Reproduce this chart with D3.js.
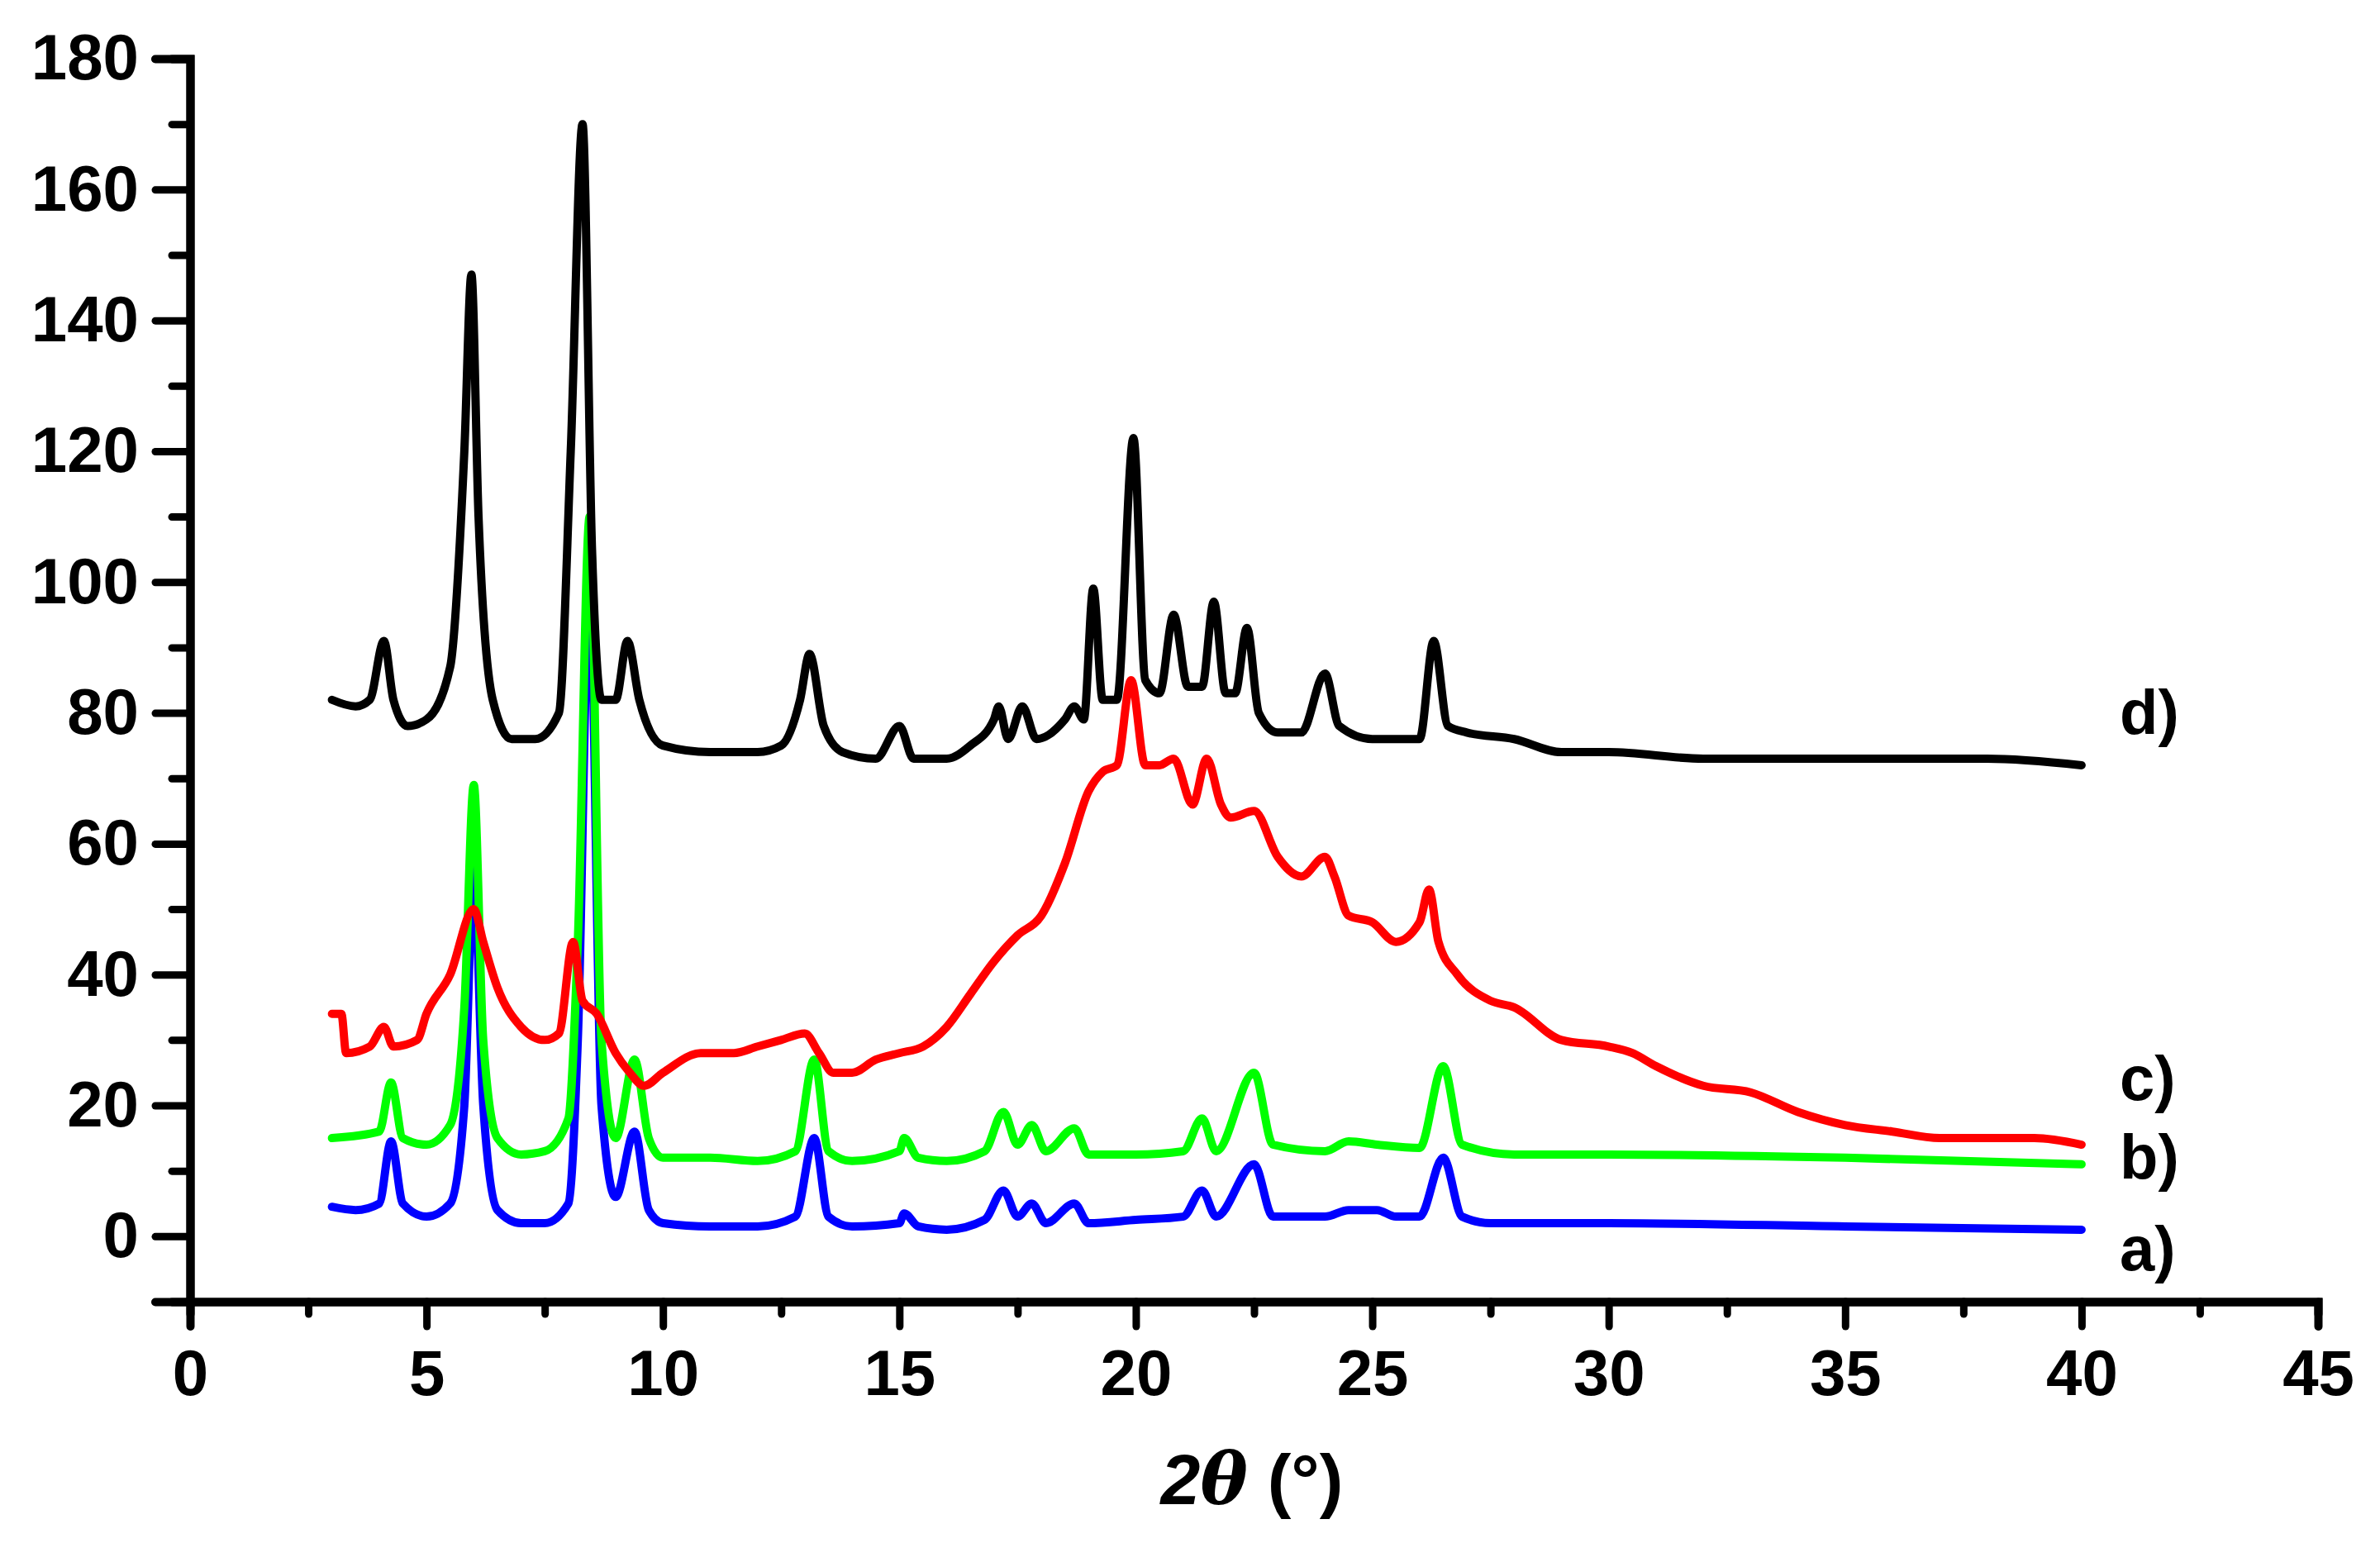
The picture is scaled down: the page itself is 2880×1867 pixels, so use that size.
<!DOCTYPE html>
<html>
<head>
<meta charset="utf-8">
<script src="https://cdn.jsdelivr.net/npm/d3@7"></script>
<style>
  body { margin: 0; background: #fff; }
  text { font-family: "Liberation Sans", Arial, sans-serif; font-weight: bold; }
</style>
</head>
<body>
<svg id="chart" width="2880" height="1867"></svg>
<script>
// values (2theta, intensity)
var xA = [3,3.5,4,4.25,4.5,5,5.5,5.8,6,6.2,6.5,7,7.5,8,8.2,8.45,8.7,9,9.4,9.7,10,11,12,12.8,13.2,13.5,14,15,15.1,15.4,16,16.8,17.2,17.5,17.8,18.1,18.7,19,20,21,21.4,21.7,22.5,22.9,24,24.5,25.1,25.5,26,26.5,26.9,27.5,30,35,40];
var yA = [4.5,4,5,14.5,5,3,5,20,56,20,4,2,2,5,30,100,20,6,16,4,2,1.5,1.5,3,15,3,1.5,2,3.5,1.5,1,2.5,7,3,5,2,5,2,2.5,3,7,3,11,3,3,4,4,3,3,12,3,2,2,1.5,1];

var xB = [3,4,4.25,4.5,5,5.5,5.8,6,6.2,6.5,7,7.5,8,8.2,8.45,8.7,9,9.4,9.7,10,11,12,12.8,13.2,13.5,14,15,15.1,15.4,16,16.8,17.2,17.5,17.8,18.1,18.7,19,20,21,21.4,21.7,22.5,22.9,24,24.5,25.1,26,26.5,26.9,28,30,35,40];
var yB = [15,16,23.5,15,14,17,35,69,30,15,12.5,13,18,45,110,30,15,27,15,12,12,11.5,13,27,13,11.5,13,15,12,11.5,13,19,14,17,13,16.5,12.5,12.5,13,18,13,25,14,13,14.5,14,13.5,26,14,12.5,12.5,12,11];

var xC = [3,3.2,3.3,3.8,4.1,4.3,4.8,5,5.5,6,6.2,6.5,7,7.5,7.8,8.1,8.3,8.6,9,9.3,9.6,10,10.8,11.5,12,12.5,13,13.3,13.6,14,14.5,15,15.5,16,16.5,17,17.5,18,18.5,19,19.3,19.6,19.9,20.2,20.5,20.8,21.2,21.5,21.8,22,22.5,23,23.5,24,24.2,24.5,25,25.5,26,26.2,26.4,26.8,27.5,28,29,30,30.5,31,32,33,34,35,36,37,38,39,40];
var yC = [34,34,28,29,32,29,30,34,40,50,45,38,32,30,31,45,36,34,28,25,23,25,28,28,29,30,31,28,25,25,27,28,29,32,37,42,46,49,57,68,71,72,85,72,72,73,66,73,66,64,65,58,55,58,55,49,48,45,48,53,45,40,36,35,30,29,28,26,23,22,19,17,16,15,15,15,14];

var xD = [3,3.5,3.8,4.1,4.3,4.6,5,5.5,5.8,5.95,6.1,6.4,6.8,7.3,7.8,8.05,8.3,8.5,8.7,9,9.25,9.5,10,11,12,12.5,12.9,13.1,13.4,13.8,14.5,15,15.3,16,16.5,17,17.1,17.3,17.6,17.9,18.5,18.7,18.9,19.1,19.3,19.6,19.95,20.2,20.5,20.8,21.1,21.4,21.65,21.9,22.1,22.35,22.6,23,23.5,24,24.3,25,26,26.3,26.6,27,28,29,30,32,34,36,38,40];
var yD = [82,81,82,91,82,78,79,87,120,147,110,82,76,76,80,120,170,105,82,82,91,82,75,74,74,75,82,89,78,74,73,78,73,73,75,79,81,76,81,76,79,81,79,99,82,82,122,85,83,95,84,84,97,83,83,93,80,77,77,86,78,76,76,91,78,77,76,74,74,73,73,73,73,72];

var seriesNames = ["a)", "b)", "c)", "d)"];
var seriesColors = ["#0000ff", "#00ff00", "#ff0000", "#000000"];
var seriesX = [xA, xB, xC, xD];
var seriesY = [yA, yB, yC, yD];
var labelY = [-2, 12, 24, 80];   // label anchor levels in data units
var xTicks = d3.range(0, 46, 5);
var yTicks = d3.range(0, 181, 20);

var svg = d3.select("#chart");
var x = d3.scaleLinear().domain([0, 45]).range([230, 2805]);
var y = d3.scaleLinear().domain([-10, 180]).range([1575, 71]);

// curves
var line = d3.line().x(d => x(d[0])).y(d => y(d[1])).curve(d3.curveMonotoneX);
seriesX.forEach((xs, i) => {
  svg.append("path")
    .datum(xs.map((v, j) => [v, seriesY[i][j]]))
    .attr("d", line)
    .attr("fill", "none")
    .attr("stroke", seriesColors[i])
    .attr("stroke-width", 10)
    .attr("stroke-linejoin", "round")
    .attr("stroke-linecap", "round");
});

// y axis
svg.append("g").attr("transform", "translate(230,0)")
  .call(d3.axisLeft(y).tickValues(yTicks).tickSize(42).tickPadding(20));
svg.append("g").attr("transform", "translate(230,0)")
  .call(d3.axisLeft(y).tickValues(d3.range(-10, 180, 20)).tickSize(22).tickFormat(""));

// x axis
svg.append("g").attr("transform", "translate(0,1575)")
  .call(d3.axisBottom(x).tickValues(xTicks).tickSize(30).tickPadding(28));
svg.append("g").attr("transform", "translate(0,1575)")
  .call(d3.axisBottom(x).tickValues(d3.range(2.5, 45, 5)).tickSize(15).tickFormat(""));

svg.selectAll(".domain").attr("stroke", "#000").attr("stroke-width", 10)
  .attr("stroke-linecap", "round");
svg.selectAll(".tick line").attr("stroke", "#000").attr("stroke-width", 9)
  .attr("stroke-linecap", "round");
svg.selectAll(".tick text").attr("font-size", 78).attr("fill", "#000")
  .style("font-family", "'Liberation Sans', Arial, sans-serif").style("font-weight", "bold");

// series labels
seriesNames.forEach((n, i) => {
  svg.append("text").attr("x", 2565).attr("y", y(labelY[i]) + 25)
    .attr("font-size", 76).text(n);
});

// axis title
svg.append("text").attr("x", 1515).attr("y", 1820).attr("text-anchor", "middle")
  .attr("font-size", 86).attr("font-style", "italic")
  .html("2<tspan font-family='DejaVu Serif'>θ</tspan> <tspan font-style='normal'>(°)</tspan>");
</script>
</body>
</html>
